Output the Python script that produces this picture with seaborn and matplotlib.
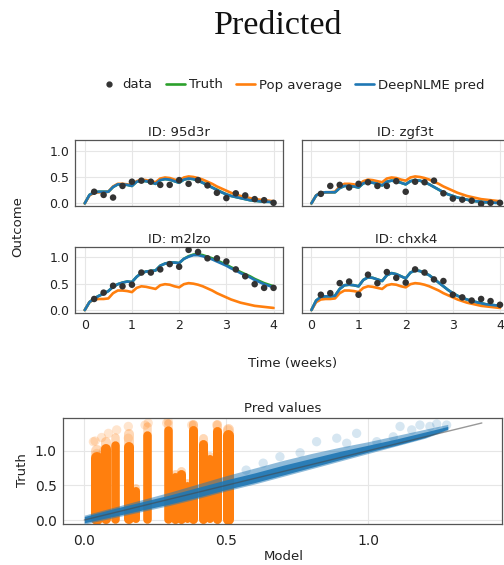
import numpy as np
import pandas as pd
import matplotlib
matplotlib.use("Agg")
import matplotlib.pyplot as plt
from matplotlib.lines import Line2D
import seaborn as sns

# ---------------- data ----------------
ids = ["95d3r", "zgf3t", "m2lzo", "chxk4"]

t_grid = [round(0.1 * i, 1) for i in range(41)]
t_obs = [round(0.2 * i, 1) for i in range(1, 21)]

pop_average = [0.00, 0.15, 0.20, 0.21, 0.21, 0.22, 0.32, 0.37, 0.37, 0.36,
               0.34, 0.42, 0.45, 0.44, 0.42, 0.40, 0.47, 0.49, 0.48, 0.45,
               0.43, 0.49, 0.51, 0.50, 0.48, 0.45, 0.41, 0.37, 0.32, 0.28,
               0.24, 0.20, 0.17, 0.14, 0.12, 0.10, 0.08, 0.07, 0.06, 0.05, 0.04]

pred_95d3r = [0.00, 0.16, 0.21, 0.22, 0.22, 0.22, 0.31, 0.36, 0.36, 0.35,
              0.33, 0.41, 0.43, 0.42, 0.40, 0.37, 0.44, 0.46, 0.45, 0.42,
              0.39, 0.45, 0.47, 0.46, 0.43, 0.39, 0.34, 0.30, 0.25, 0.21,
              0.17, 0.14, 0.12, 0.10, 0.08, 0.06, 0.05, 0.04, 0.03, 0.03, 0.02]
truth_95d3r = [0.00, 0.16, 0.21, 0.22, 0.22, 0.22, 0.31, 0.36, 0.36, 0.35,
               0.33, 0.41, 0.43, 0.42, 0.40, 0.37, 0.44, 0.46, 0.45, 0.42,
               0.39, 0.45, 0.47, 0.46, 0.43, 0.39, 0.35, 0.30, 0.26, 0.21,
               0.17, 0.14, 0.12, 0.10, 0.08, 0.06, 0.05, 0.04, 0.03, 0.03, 0.02]
obs_95d3r = [0.22, 0.16, 0.11, 0.33, 0.41, 0.43, 0.41, 0.35, 0.35, 0.44,
             0.37, 0.44, 0.34, 0.20, 0.10, 0.19, 0.15, 0.08, 0.06, 0.01]

pred_zgf3t = [0.00, 0.15, 0.20, 0.21, 0.21, 0.21, 0.29, 0.33, 0.33, 0.32,
              0.30, 0.38, 0.40, 0.39, 0.37, 0.34, 0.41, 0.43, 0.42, 0.39,
              0.36, 0.42, 0.44, 0.43, 0.40, 0.36, 0.31, 0.26, 0.21, 0.17,
              0.14, 0.11, 0.09, 0.07, 0.05, 0.04, 0.03, 0.02, 0.02, 0.01, 0.01]
truth_zgf3t = [0.00, 0.15, 0.20, 0.21, 0.21, 0.21, 0.29, 0.33, 0.33, 0.32,
               0.30, 0.38, 0.40, 0.39, 0.37, 0.34, 0.41, 0.43, 0.42, 0.39,
               0.36, 0.42, 0.44, 0.43, 0.40, 0.36, 0.31, 0.26, 0.21, 0.17,
               0.14, 0.11, 0.09, 0.07, 0.05, 0.04, 0.03, 0.02, 0.02, 0.01, 0.01]
obs_zgf3t = [0.18, 0.33, 0.35, 0.30, 0.37, 0.40, 0.33, 0.33, 0.42, 0.22,
             0.41, 0.40, 0.43, 0.19, 0.09, 0.07, 0.05, -0.01, 0.01, 0.01]

pred_m2lzo = [0.00, 0.15, 0.22, 0.27, 0.31, 0.36, 0.44, 0.49, 0.52, 0.54,
              0.53, 0.63, 0.70, 0.73, 0.74, 0.75, 0.84, 0.88, 0.90, 0.90,
              0.89, 0.97, 1.01, 1.04, 1.04, 1.02, 0.99, 0.96, 0.92, 0.88,
              0.84, 0.79, 0.75, 0.70, 0.66, 0.62, 0.57, 0.53, 0.49, 0.46, 0.43]
truth_m2lzo = [0.00, 0.15, 0.22, 0.27, 0.31, 0.36, 0.44, 0.49, 0.52, 0.54,
               0.53, 0.63, 0.70, 0.73, 0.74, 0.75, 0.84, 0.88, 0.90, 0.90,
               0.89, 0.97, 1.02, 1.05, 1.06, 1.04, 1.01, 0.98, 0.94, 0.90,
               0.86, 0.81, 0.77, 0.72, 0.68, 0.64, 0.59, 0.55, 0.51, 0.48, 0.45]
obs_m2lzo = [0.21, 0.33, 0.46, 0.45, 0.48, 0.71, 0.71, 0.77, 0.87, 0.82,
             1.14, 1.10, 0.98, 0.98, 0.92, 0.77, 0.64, 0.49, 0.42, 0.42]

pred_chxk4 = [0.00, 0.18, 0.25, 0.26, 0.26, 0.27, 0.40, 0.47, 0.48, 0.47,
              0.45, 0.57, 0.62, 0.61, 0.58, 0.55, 0.66, 0.70, 0.68, 0.64,
              0.60, 0.71, 0.75, 0.74, 0.70, 0.66, 0.59, 0.52, 0.45, 0.38,
              0.32, 0.27, 0.23, 0.20, 0.17, 0.15, 0.13, 0.11, 0.10, 0.09, 0.08]
truth_chxk4 = [0.00, 0.18, 0.25, 0.26, 0.26, 0.27, 0.40, 0.47, 0.48, 0.47,
               0.45, 0.57, 0.62, 0.61, 0.58, 0.55, 0.66, 0.70, 0.68, 0.64,
               0.60, 0.71, 0.75, 0.74, 0.70, 0.66, 0.59, 0.52, 0.45, 0.38,
               0.32, 0.27, 0.23, 0.20, 0.17, 0.15, 0.13, 0.11, 0.10, 0.09, 0.08]
obs_chxk4 = [0.29, 0.32, 0.51, 0.54, 0.29, 0.67, 0.51, 0.72, 0.61, 0.52,
             0.77, 0.71, 0.58, 0.55, 0.29, 0.24, 0.18, 0.21, 0.17, 0.10]

preds = [pred_95d3r, pred_zgf3t, pred_m2lzo, pred_chxk4]
truths = [truth_95d3r, truth_zgf3t, truth_m2lzo, truth_chxk4]
observations = [obs_95d3r, obs_zgf3t, obs_m2lzo, obs_chxk4]

# Pred values: population-average predictions form columns of truth values
pop_col_model = [0.044, 0.076, 0.108, 0.158, 0.182, 0.220, 0.296, 0.318, 0.342,
                 0.362, 0.384, 0.419, 0.442, 0.466, 0.507]
pop_col_solid_top = [0.90, 1.02, 1.08, 1.06, 0.42, 1.22, 1.30, 0.62, 0.66,
                     0.50, 1.30, 1.10, 0.88, 1.28, 1.22]
pop_col_faded_top = [1.00, 1.12, 1.20, 1.24, 0.46, 1.35, 1.40, 0.66, 0.70,
                     0.55, 1.38, 1.18, 0.92, 1.38, 1.32]
pop_col_bottom = [0.02, 0.02, 0.02, 0.02, 0.02, 0.02, 0.02, 0.02, 0.02,
                  0.02, 0.02, 0.02, 0.02, 0.02, 0.02]
pop_col_width = [12, 10, 8.5, 10, 8, 8.5, 8.5, 9, 9, 7, 9, 9, 8, 9, 11]
pop_sparse_model = [0.032, 0.038, 0.044, 0.061, 0.067, 0.085, 0.114, 0.155, 0.155,
                    0.214, 0.225, 0.290, 0.296, 0.378, 0.384, 0.466, 0.507]
pop_sparse_truth = [1.13, 1.14, 0.96, 1.19, 0.99, 1.25, 1.30, 1.35, 1.18,
                    1.37, 1.40, 1.40, 1.42, 1.37, 1.37, 1.37, 1.30]

# DeepNLME predictions: dense band along the identity line plus sparse points
nlme_model = [0.00, 0.10, 0.20, 0.30, 0.40, 0.50, 0.60, 0.70, 0.80, 0.90,
              1.00, 1.10, 1.20, 1.28]
nlme_outer_low = [-0.06, 0.03, 0.12, 0.21, 0.31, 0.42, 0.52, 0.63, 0.74, 0.85,
                  0.96, 1.07, 1.18, 1.30]
nlme_outer_high = [0.07, 0.18, 0.29, 0.40, 0.52, 0.64, 0.75, 0.86, 0.96, 1.05,
                   1.13, 1.22, 1.31, 1.38]
nlme_core_low = [-0.04, 0.05, 0.14, 0.23, 0.33, 0.44, 0.54, 0.65, 0.76, 0.87,
                 0.98, 1.08, 1.19, 1.31]
nlme_core_high = [0.05, 0.16, 0.26, 0.36, 0.47, 0.58, 0.68, 0.79, 0.89, 0.99,
                  1.08, 1.17, 1.27, 1.35]
nlme_sparse_model = [0.57, 0.63, 0.689, 0.76, 0.818, 0.889, 0.924, 0.959, 1.03,
                     1.088, 1.112, 1.153, 1.182, 1.217, 1.241, 1.276]
nlme_sparse_truth = [0.72, 0.82, 0.913, 0.97, 1.13, 1.18, 1.107, 1.25, 1.13,
                     1.20, 1.35, 1.30, 1.37, 1.35, 1.385, 1.37]
identity_ends = [0.0, 1.40]

# ---------------- style ----------------
sns.set_style("white")
plt.rcParams["font.family"] = ["DejaVu Sans"]

BLUE, ORANGE, GREEN, DOT = "#1f77b4", "#ff7f0e", "#2ca02c", "#333333"
TXT = "#222222"
SPINE = "#555555"
GRID = "#e6e6e6"

fig = plt.figure(figsize=(5.04, 5.65), dpi=100)


def style_axes(ax):
    for s in ax.spines.values():
        s.set_visible(True)
        s.set_color(SPINE)
        s.set_linewidth(0.9)
    ax.grid(True, color=GRID, lw=0.8)
    ax.set_axisbelow(True)
    ax.tick_params(direction="out", length=3, width=0.8, color=SPINE,
                   labelsize=9, labelcolor=TXT, pad=1.5)
    ax.set_xlabel("")
    ax.set_ylabel("")


W = 504.0
H = 565.0


def rect(x0, y0, x1, y1):
    return [x0 / W, 1 - y1 / H, (x1 - x0) / W, (y1 - y0) / H]


panel_rects = [rect(75.3, 140, 283, 206), rect(302, 140, 509.4, 206),
               rect(75.3, 246.7, 283, 312.7), rect(302, 246.7, 509.4, 312.7)]

for i, pid in enumerate(ids):
    ax = fig.add_axes(panel_rects[i])
    sns.lineplot(x=t_grid, y=truths[i], ax=ax, color=GREEN, lw=1.9)
    sns.lineplot(x=t_grid, y=pop_average, ax=ax, color=ORANGE, lw=1.9)
    sns.lineplot(x=t_grid, y=preds[i], ax=ax, color=BLUE, lw=1.9)
    sns.scatterplot(x=t_obs, y=observations[i], ax=ax, color=DOT, s=22,
                    edgecolor="none", zorder=5)
    ax.set_xlim(-0.2, 4.2)
    ax.set_ylim(-0.05, 1.2)
    ax.set_xticks([0, 1, 2, 3, 4])
    ax.set_yticks([0.0, 0.5, 1.0])
    ax.set_yticklabels(["0.0", "0.5", "1.0"])
    style_axes(ax)
    ax.set_title(f"ID: {pid}", fontsize=9.5, color=TXT, pad=3)
    if i < 2:
        ax.tick_params(axis="x", length=0, labelbottom=False)
    if i % 2 == 1:
        ax.tick_params(axis="y", length=0, labelleft=False)

fig.text(18 / W, 1 - 226.5 / H, "Outcome", rotation=90, ha="center",
         va="center", fontsize=9.5, color=TXT)
fig.text(292.5 / W, 1 - 363 / H, "Time (weeks)", ha="center", va="center",
         fontsize=9.5, color=TXT)

handles = [Line2D([], [], marker="o", ls="", color=DOT, ms=3.5),
           Line2D([], [], color=GREEN, lw=1.9),
           Line2D([], [], color=ORANGE, lw=1.9),
           Line2D([], [], color=BLUE, lw=1.9)]
fig.legend(handles, ["data", "Truth", "Pop average", "DeepNLME pred"],
           loc="center", bbox_to_anchor=(292 / W, 1 - 85 / H), ncol=4,
           frameon=False, fontsize=9.5, handlelength=1.45, handletextpad=0.3,
           columnspacing=1.0, labelcolor=TXT)

fig.text(278 / W, 1 - 34 / H, "Predicted", ha="center", va="baseline",
         fontsize=24.5, family=["Liberation Serif"], color="#111111")

# ---------------- Pred values ----------------
ax = fig.add_axes(rect(63, 417.7, 502, 524.3))
col_lw = [w * 0.72 for w in pop_col_width]
ax.vlines(pop_col_model, pop_col_bottom, pop_col_faded_top, colors=ORANGE,
          alpha=0.3, linewidths=col_lw, capstyle="round", zorder=2)
ax.vlines(pop_col_model, pop_col_bottom, pop_col_solid_top, colors=ORANGE,
          linewidths=col_lw, capstyle="round", zorder=2)
sns.scatterplot(x=pop_sparse_model, y=pop_sparse_truth, ax=ax, color=ORANGE,
                alpha=0.2, s=45, edgecolor="none", zorder=2)
ax.fill_between(nlme_model, nlme_outer_low, nlme_outer_high, color=BLUE,
                alpha=0.5, lw=0, zorder=3)
ax.fill_between(nlme_model, nlme_core_low, nlme_core_high, color=BLUE,
                alpha=0.9, lw=0, zorder=3)
sns.scatterplot(x=nlme_sparse_model, y=nlme_sparse_truth, ax=ax, color=BLUE,
                alpha=0.18, s=45, edgecolor="none", zorder=3)
sns.lineplot(x=identity_ends, y=identity_ends, ax=ax, color="#444444",
             alpha=0.55, lw=1.0, zorder=4)
ax.set_xlim(-0.075, 1.471)
ax.set_ylim(-0.062, 1.476)
ax.set_xticks([0.0, 0.5, 1.0])
ax.set_yticks([0.0, 0.5, 1.0])
ax.set_xticklabels(["0.0", "0.5", "1.0"])
ax.set_yticklabels(["0.0", "0.5", "1.0"])
style_axes(ax)
ax.tick_params(labelsize=10)
ax.tick_params(axis="x", pad=4)
ax.set_title("Pred values", fontsize=9.5, color=TXT, pad=4)
fig.text(23 / W, 1 - 470 / H, "Truth", rotation=90, ha="center", va="center",
         fontsize=9.5, color=TXT)
fig.text(284 / W, 1 - 557 / H, "Model", ha="center", va="center",
         fontsize=9.5, color=TXT)

fig.savefig("out.png", dpi=100)
